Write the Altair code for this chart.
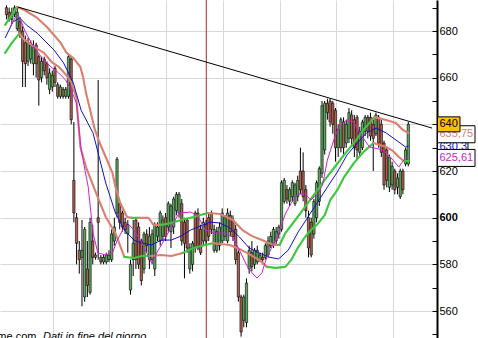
import altair as alt
import pandas as pd

# ---------------- data ----------------
OPEN = [690, 688, 685, 687, 681, 684, 680, 675, 667, 668, 666, 674, 669, 660, 668, 666, 655, 656, 664, 657,
        652, 655, 652, 652, 668, 616, 600, 586, 583, 566, 578, 568, 590, 583, 600, 583, 581, 581, 582, 582,
        590, 602, 606, 602, 598, 593, 569, 582, 599, 596, 590, 578, 593, 582, 582, 578, 592, 590, 592, 600,
        596, 594, 596, 603, 602, 606, 598, 599, 578, 580, 602, 602, 595, 590, 597, 600, 602, 586, 586, 588,
        590, 592, 590, 601, 599, 595, 585, 566, 556, 555, 578, 585, 580, 581, 582, 583, 583, 584, 588, 589,
        590, 593, 595, 607, 612, 607, 609, 606, 609, 620, 620, 612, 600, 598, 593, 600, 607, 619, 629, 649,
        650, 649, 646, 630, 630, 641, 632, 634, 644, 642, 643, 628, 630, 637, 643, 643, 640, 636, 643, 640,
        632, 629, 613, 614, 620, 613, 609, 620, 623, 623]
CLOSE = [687, 685, 688, 690, 688, 679, 667, 666, 675, 674, 673, 666, 659, 667, 663, 660, 662, 661, 658, 652,
         656, 652, 655, 669, 642, 602, 589, 582, 586, 595, 571, 598, 583, 584, 598, 581, 583, 584, 584, 593,
         596, 625, 598, 596, 595, 597, 580, 589, 582, 580, 573, 593, 588, 592, 593, 597, 596, 602, 599, 592,
         606, 605, 608, 610, 610, 590, 589, 587, 587, 589, 587, 587, 585, 598, 590, 592, 595, 595, 594, 596,
         602, 600, 602, 594, 592, 582, 566, 551, 566, 572, 586, 579, 586, 586, 584, 582, 588, 590, 592, 595,
         594, 596, 615, 616, 608, 612, 615, 614, 616, 612, 609, 603, 587, 584, 607, 615, 621, 648, 649, 645,
         641, 640, 630, 638, 642, 630, 640, 645, 634, 630, 629, 637, 641, 643, 637, 635, 634, 644, 632, 628,
         614, 616, 626, 622, 612, 617, 620, 612, 629, 640]
HIGH = [691, 690, 690, 691, 690, 686, 682, 678, 677, 676, 676, 675, 670, 669, 669, 667, 664, 663, 665, 658,
        657, 656, 656, 670, 669, 641, 602, 590, 599, 596, 590, 600, 597, 585, 659, 584, 584, 585, 586, 595,
        600, 626, 607, 603, 600, 599, 582, 599, 600, 598, 591, 594, 595, 596, 595, 598, 598, 603, 601, 602,
        607, 606, 609, 611, 611, 608, 600, 600, 589, 590, 603, 604, 597, 600, 599, 602, 603, 597, 596, 598,
        604, 601, 604, 603, 601, 597, 586, 567, 567, 574, 588, 590, 587, 588, 585, 585, 589, 592, 594, 596,
        596, 597, 616, 617, 614, 613, 616, 615, 618, 630, 628, 614, 603, 600, 608, 616, 622, 650, 650, 651,
        651, 650, 647, 640, 643, 643, 642, 647, 646, 644, 644, 639, 642, 644, 644, 645, 642, 645, 644, 642,
        633, 630, 627, 624, 621, 619, 621, 621, 630, 641]
LOW = [685, 684, 683, 686, 680, 677, 656, 656, 665, 666, 661, 660, 648, 658, 661, 657, 653, 654, 656, 651,
       651, 651, 651, 651, 640, 598, 580, 576, 562, 564, 566, 567, 580, 582, 582, 580, 580, 580, 581, 581,
       588, 600, 595, 594, 593, 585, 567, 575, 578, 578, 571, 576, 585, 578, 580, 575, 590, 588, 590, 590,
       594, 587, 593, 601, 600, 588, 574, 585, 576, 577, 585, 586, 584, 588, 588, 590, 593, 585, 585, 586,
       589, 590, 589, 592, 590, 580, 564, 549, 553, 553, 576, 577, 578, 580, 581, 580, 582, 583, 587, 587,
       588, 591, 594, 606, 606, 605, 607, 605, 607, 610, 607, 600, 583, 583, 591, 598, 605, 617, 627, 642,
       639, 636, 624, 626, 628, 627, 630, 632, 631, 626, 625, 626, 629, 635, 634, 633, 620, 635, 630, 626,
       612, 613, 611, 612, 610, 610, 608, 610, 622, 622]

# upper envelope (G = green, S = salmon: colour of the segment that starts at each vertex)
UP_IDX = [-0.5, 2.0, 3.8, 6.7, 11.4, 15.0, 17.6, 20.1, 22.3, 24.8, 27.4, 28.4, 29.5, 31.3, 32.8, 34.6, 36.8,
          39.3, 40.4, 42.2, 44.7, 46.6, 49.1, 52.7, 54.5, 57.4, 61.1, 64.7, 69.4, 71.9, 74.8, 79.2, 83.9, 87.5,
          91.1, 94.7, 99.1, 101.3, 103.4, 107.1, 110.7, 114.3, 118.0, 121.6, 125.2, 128.8, 132.4, 136.4, 140.8,
          144.4, 147.0, 149.1]
UP_P = [682.6, 686.9, 690.3, 689.0, 685.6, 681.7, 678.3, 674.9, 670.6, 668.4, 664.6, 660.3, 653.4, 644.9, 637.6,
        632.0, 626.0, 619.2, 613.2, 606.3, 600.3, 599.9, 599.9, 599.9, 596.9, 596.9, 597.7, 599.0, 600.3, 601.1,
        602.0, 601.6, 599.0, 594.7, 592.1, 590.4, 588.3, 588.3, 593.4, 599.0, 604.6, 610.2, 616.2, 621.5, 626.9,
        632.0, 637.6, 643.1, 641.9, 640.6, 637.6, 636.3]
UP_COL = list("GG" + "S" * 19 + "G" + "SSS" + "GGGGG" + "SSSSSSS" + "GGGGGGGGGG" + "SSSSS")

# lower envelope
LO_IDX = [-0.5, 2.0, 4.9, 5.6, 7.8, 10.3, 13.9, 16.8, 19.4, 21.2, 23.0, 24.1, 25.9, 27.4, 29.5, 33.2, 36.8,
          40.4, 43.7, 47.3, 50.2, 53.8, 57.4, 61.1, 65.4, 69.4, 73.7, 76.6, 79.2, 82.8, 86.4, 90.0, 93.7, 96.6,
          99.8, 103.4, 105.6, 108.2, 110.7, 112.9, 115.4, 118.0, 120.1, 122.7, 125.2, 128.8, 132.4, 136.1, 140.8,
          143.3, 145.5, 147.3, 149.1]
LO_P = [670.6, 674.9, 679.1, 677.4, 675.3, 673.2, 670.6, 666.7, 664.6, 662.4, 659.9, 657.7, 651.7, 630.3, 621.7,
        610.6, 600.3, 593.4, 583.2, 582.7, 583.6, 583.6, 584.0, 583.6, 584.9, 587.0, 588.3, 589.1, 588.7, 588.3,
        586.6, 584.4, 581.9, 578.9, 578.5, 578.9, 581.9, 587.4, 591.7, 594.7, 597.3, 601.1, 607.6, 611.9, 617.4,
        623.4, 628.2, 632.0, 630.3, 628.6, 626.0, 624.3, 624.3]
LO_COL = list("GG" + "S" * 16 + "GGG" + "SSS" + "GGG" + "SSSSSS" + "G" * 14 + "SSSS" + "GG")

# blue average
BL_IDX = [-0.5, 2.4, 4.9, 7.4, 11.4, 17.6, 21.2, 24.8, 27.7, 32.1, 36.8, 40.4, 43.7, 47.3, 50.2, 53.8, 57.4,
          61.1, 64.7, 68.3, 71.9, 75.5, 79.2, 82.8, 86.4, 90.0, 93.7, 97.3, 100.9, 104.5, 108.2, 111.8, 115.4,
          119.0, 122.7, 126.3, 128.8, 133.5, 137.1, 140.8, 144.4, 148.0, 149.1]
BL_P = [677.0, 683.9, 685.6, 682.6, 679.1, 671.9, 666.3, 657.7, 646.0, 636.3, 614.9, 602.0, 594.7, 590.4, 589.1,
        588.3, 590.4, 590.4, 592.1, 594.7, 596.4, 598.1, 597.7, 595.6, 591.7, 587.0, 584.9, 583.1, 582.3, 586.1,
        593.9, 600.3, 606.7, 613.1, 619.6, 626.9, 630.3, 636.3, 638.4, 636.3, 633.3, 630.3, 630.7]

# magenta average
MG_IDX = [1.3, 3.8, 4.9, 6.7, 9.2, 12.9, 16.5, 19.4, 21.9, 23.7, 25.9, 27.7, 30.3, 32.1, 33.9, 36.8, 39.3,
          41.1, 43.7, 45.5, 47.3, 50.2, 52.7, 53.8, 56.3, 58.5, 61.1, 64.0, 68.3, 70.8, 73.7, 77.4, 81.0, 83.9,
          86.4, 89.0, 91.1, 92.9, 94.7, 96.2, 98.4, 100.9, 103.4, 105.6, 108.2, 110.7, 112.9, 115.4, 117.2, 119.0,
          121.6, 123.7, 126.3, 128.8, 131.0, 134.6, 139.7, 143.3, 145.5, 147.3, 149.1]
MG_P = [681.7, 686.9, 686.0, 680.4, 674.9, 668.9, 664.6, 662.0, 659.0, 655.6, 649.2, 629.0, 613.2, 593.4, 584.9,
        584.0, 584.9, 590.4, 596.0, 596.9, 594.7, 589.1, 583.2, 580.6, 586.1, 590.4, 596.0, 602.0, 602.4, 601.1,
        594.7, 593.4, 593.4, 591.7, 586.1, 579.7, 576.3, 574.1, 576.3, 581.9, 587.4, 593.4, 601.6, 606.3, 610.2,
        610.2, 607.6, 610.2, 614.0, 624.7, 634.1, 639.7, 641.9, 641.0, 636.3, 630.3, 629.0, 624.7, 621.7, 624.7,
        626.0]

TREND_IDX = [4.2, 157.8]
TREND_P = [690.3, 638.4]

MONTH_GRID = [17.2, 38.2, 59.2, 80.3, 101.3, 122.3, 143.3]
MARKER_IDX = [74.1]
Y_LABELS = [560, 580, 600, 620, 640, 660, 680]
Y_MINOR = list(range(550, 691, 10))

BOX_VALUES = [630.3, 625.61, 635.75, 640.0]
BOX_TEXT = ["630,3", "625,61", "635,75", "640"]
BOX_TEXT_COLOR = ["#1010c8", "#d020d0", "#d9806e", "#000000"]
BOX_FILL = ["white", "white", "white", "#ffc000"]
BOX_RIGHT = [468, 475, 475, 460]
BOX_HALF = [3.64, 3.64, 3.64, 3.2]

# ---------------- styles ----------------
SALMON = "#d9806e"
GREEN_BAND = "#3cc83c"
UP_FILL = "#5fa85f"
DOWN_FILL = "#b0604f"
GRID = "#d9d9d9"
FONT = "Liberation Sans"

n = len(CLOSE)
candles = pd.DataFrame({"i": list(range(n)), "o": OPEN, "c": CLOSE, "h": HIGH, "l": LOW})
candles["dir"] = ["up" if c >= o else "down" for o, c in zip(OPEN, CLOSE)]


def band_rows(xs, ps, cols, name):
    rows = []
    run = -1
    prev = None
    order = 0
    for k in range(len(xs) - 1):
        if cols[k] != prev:
            run += 1
            prev = cols[k]
            rows.append({"i": xs[k], "p": ps[k], "col": cols[k], "run": f"{name}{run}", "ord": order})
            order += 1
        rows.append({"i": xs[k + 1], "p": ps[k + 1], "col": cols[k], "run": f"{name}{run}", "ord": order})
        order += 1
    return rows


bands = pd.DataFrame(band_rows(UP_IDX, UP_P, UP_COL, "u") + band_rows(LO_IDX, LO_P, LO_COL, "l"))
blue = pd.DataFrame({"i": BL_IDX, "p": BL_P})
mag = pd.DataFrame({"i": MG_IDX, "p": MG_P})
trend = pd.DataFrame({"i": TREND_IDX, "p": TREND_P})
marker = pd.DataFrame({"i": MARKER_IDX})

xs = alt.Scale(domain=[-0.543, 157.79], nice=False, zero=False)
ys = alt.Scale(domain=[548.43, 693.29], nice=False, zero=False)
xaxis = alt.Axis(values=MONTH_GRID, grid=True, gridColor=GRID, labels=False, ticks=False,
                 domain=False, title=None)


def X(field="i"):
    return alt.X(f"{field}:Q", scale=xs, axis=xaxis, title=None)


def Y(field, axis=None):
    return alt.Y(f"{field}:Q", scale=ys, axis=axis, title=None)


right_axis = alt.Axis(orient="right", values=Y_LABELS, grid=True, gridColor=GRID, ticks=False, tickSize=0,
                      domain=True, domainColor="black", domainWidth=2, labelFont=FONT, labelFontSize=11,
                      labelColor="black", labelPadding=2,
                      labelFontWeight={"expr": "datum.value == 600 ? 'bold' : 'normal'"}, title=None)
tick_axis = alt.Axis(orient="left", offset=-437, values=Y_MINOR, grid=False, ticks=True, tickSize=5,
                     tickColor="black", tickWidth=1, labels=False, domain=False, title=None)

base = alt.Chart(candles)

marker_rule = alt.Chart(marker).mark_rule(color="#b02828", strokeWidth=1).encode(x=X())

wicks = base.mark_rule(color="black", strokeWidth=1, clip=True).encode(
    x=X(), y=Y("l", tick_axis), y2="h:Q")

bodies = base.mark_bar(width=2.3, stroke="black", strokeWidth=0.6, clip=True).encode(
    x=X(), y=Y("o", right_axis), y2="c:Q",
    fill=alt.Fill("dir:N", scale=alt.Scale(domain=["up", "down"], range=[UP_FILL, DOWN_FILL]), legend=None))

band_lines = alt.Chart(bands).mark_line(strokeWidth=2.1, strokeCap="round", strokeJoin="round", clip=True).encode(
    x=X(), y=Y("p"), detail="run:N", order="ord:Q",
    color=alt.Color("col:N", scale=alt.Scale(domain=["S", "G"], range=[SALMON, GREEN_BAND]), legend=None))

blue_line = alt.Chart(blue).mark_line(color="#1010c8", strokeWidth=1, clip=True).encode(x=X(), y=Y("p"))
mag_line = alt.Chart(mag).mark_line(color="#d020d0", strokeWidth=1, clip=True).encode(x=X(), y=Y("p"))
trend_line = alt.Chart(trend).mark_line(color="black", strokeWidth=1, clip=True).encode(x=X(), y=Y("p"))

boxes = pd.DataFrame({
    "v": BOX_VALUES, "t": BOX_TEXT, "tc": BOX_TEXT_COLOR, "fill": BOX_FILL,
    "lo": [v - h for v, h in zip(BOX_VALUES, BOX_HALF)],
    "hi": [v + h for v, h in zip(BOX_VALUES, BOX_HALF)],
})

box_layers = []
for k in range(len(BOX_VALUES)):
    sub = boxes.iloc[[k]]
    rect = alt.Chart(sub).mark_rect(fill=BOX_FILL[k], stroke="black", strokeWidth=1, clip=False).encode(
        x=alt.value(437.5), x2=alt.value(BOX_RIGHT[k]), y=Y("lo"), y2="hi:Q")
    txt = alt.Chart(sub).mark_text(align="left", baseline="middle", font=FONT, fontSize=11,
                                   color=BOX_TEXT_COLOR[k], clip=False).encode(
        x=alt.value(439.5), y=Y("v"), text="t:N")
    box_layers += [rect, txt]

footer_a = alt.Chart(pd.DataFrame({"t": ["me.com."]})).mark_text(
    align="right", baseline="alphabetic", font=FONT, fontSize=11, color="black").encode(
    x=alt.value(39.5), y=alt.value(339.5), text="t:N")
footer_b = alt.Chart(pd.DataFrame({"t": ["Dati in fine del giorno"]})).mark_text(
    align="left", baseline="alphabetic", font=FONT, fontSize=11, fontStyle="italic", color="black").encode(
    x=alt.value(43), y=alt.value(339.5), text="t:N")

chart = alt.layer(
    marker_rule, wicks, bodies, band_lines, blue_line, mag_line, trend_line, *box_layers, footer_a, footer_b
).resolve_axis(y="independent").properties(
    width=437, height=338,
    padding={"left": 0, "top": 0, "right": 41, "bottom": 0},
    autosize=alt.AutoSizeParams(type="none"),
    background="white",
).configure_view(stroke=None)

chart.save("out.html", embed_options={"renderer": "svg", "actions": False})
